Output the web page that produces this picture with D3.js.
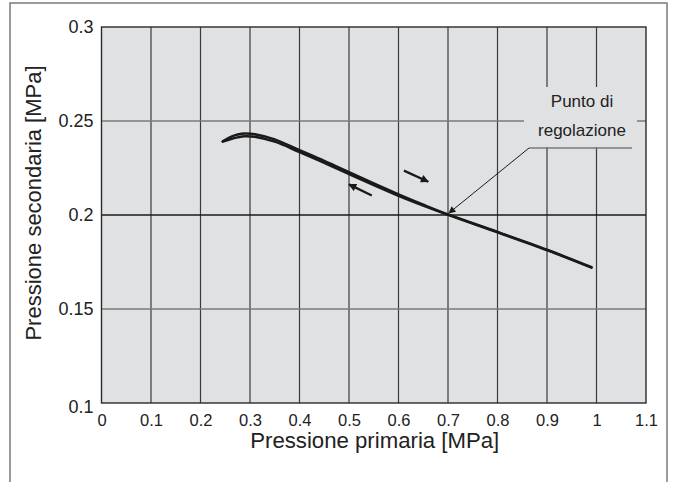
<!DOCTYPE html>
<html>
<head>
<meta charset="utf-8">
<script src="https://cdn.jsdelivr.net/npm/d3@7/dist/d3.min.js"></script>
<style>
  html, body { margin: 0; padding: 0; background: #fff; }
  svg { display: block; font-family: "Liberation Sans", Arial, Helvetica, sans-serif; }
</style>
</head>
<body>
<svg id="chart" width="674" height="482"></svg>
<script>
// Primary pressure (MPa) samples and secondary pressure for both directions
const primaryUp = [0.245, 0.26, 0.275, 0.29, 0.31, 0.35, 0.40, 0.45, 0.50, 0.55, 0.60, 0.65, 0.70, 0.80, 0.90, 0.99];
const secondaryUp = [0.2392, 0.2414, 0.2428, 0.2434, 0.2430, 0.2402, 0.2345, 0.2288, 0.2228, 0.2168, 0.2110, 0.2055, 0.2003, 0.1910, 0.1815, 0.1722];
const primaryDown = [0.245, 0.26, 0.275, 0.29, 0.31, 0.35, 0.40, 0.45, 0.50, 0.55, 0.60, 0.65, 0.70, 0.80, 0.90, 0.99];
const secondaryDown = [0.2390, 0.2403, 0.2413, 0.2419, 0.2416, 0.2390, 0.2335, 0.2278, 0.2218, 0.2159, 0.2102, 0.2050, 0.2001, 0.1908, 0.1813, 0.1720];

// Axis ticks
const xTicks = [0, 0.1, 0.2, 0.3, 0.4, 0.5, 0.6, 0.7, 0.8, 0.9, 1, 1.1];
const yTicks = [0.1, 0.15, 0.2, 0.25, 0.3];

// Set point and direction arrows (data units: [x0, y0, x1, y1])
const setPoint = [0.7, 0.2];
const setPointLabel = ["Punto di", "regolazione"];
const directionArrows = [
  [0.611, 0.2236, 0.660, 0.2177],
  [0.546, 0.2104, 0.500, 0.2163]
];

const xTitle = "Pressione primaria [MPa]";
const yTitle = "Pressione secondaria [MPa]";

const svg = d3.select("#chart");
const margin = { left: 101.5, right: 28, top: 27, bottom: 79 };
const W = 674, H = 482;

const x = d3.scaleLinear().domain([0, 1.1]).range([margin.left, W - margin.right]);
const y = d3.scaleLinear().domain([0.1, 0.3]).range([H - margin.bottom, margin.top]);

// Outer frame
svg.append("rect")
  .attr("x", 10).attr("y", 3)
  .attr("width", 657).attr("height", 490)
  .attr("fill", "none").attr("stroke", "#7a7a7a").attr("stroke-width", 1.5);

// Plot background
svg.append("rect")
  .attr("x", x(0)).attr("y", y(0.3))
  .attr("width", x(1.1) - x(0)).attr("height", y(0.1) - y(0.3))
  .attr("fill", "#e0e1e3");

// Vertical grid
svg.append("g").selectAll("line")
  .data(xTicks.slice(1, -1)).join("line")
  .attr("x1", d => x(d)).attr("x2", d => x(d))
  .attr("y1", y(0.3)).attr("y2", y(0.1))
  .attr("stroke", "#3a3a3a").attr("stroke-width", 1.2);

// Horizontal grid
svg.append("g").selectAll("line")
  .data(yTicks.slice(1, -1)).join("line")
  .attr("x1", x(0)).attr("x2", x(1.1))
  .attr("y1", d => y(d)).attr("y2", d => y(d))
  .attr("stroke", d => d === 0.2 ? "#1a1a1a" : "#7a7a7a")
  .attr("stroke-width", d => d === 0.2 ? 1.5 : 1.4);

// Plot border
svg.append("rect")
  .attr("x", x(0)).attr("y", y(0.3))
  .attr("width", x(1.1) - x(0)).attr("height", y(0.1) - y(0.3))
  .attr("fill", "none").attr("stroke", "#2a2a2a").attr("stroke-width", 1.4);

// Label box hiding the grid behind the set point note
svg.append("rect")
  .attr("x", 524).attr("y", 87)
  .attr("width", 113).attr("height", 60)
  .attr("fill", "#e0e1e3");

// Axes
const xAxis = d3.axisBottom(x).tickValues(xTicks).tickSize(0).tickPadding(11)
  .tickFormat(d => String(+d.toFixed(1)));
const gx = svg.append("g").attr("transform", `translate(0,${y(0.1)})`).call(xAxis);
gx.select(".domain").remove();
gx.selectAll("text").attr("font-size", 16.5).attr("fill", "#222")
  .attr("font-family", "Liberation Sans, Arial, sans-serif");

const yAxis = d3.axisLeft(y).tickValues(yTicks).tickSize(0).tickPadding(8)
  .tickFormat(d => String(+d.toFixed(2)));
const gy = svg.append("g").attr("transform", `translate(${x(0)},0)`).call(yAxis);
gy.select(".domain").remove();
gy.selectAll("text").attr("font-size", 18).attr("fill", "#222")
  .attr("font-family", "Liberation Sans, Arial, sans-serif");
gy.selectAll(".tick").filter(d => d === 0.1).select("text").attr("dy", "0.55em");

// Curves
const line = d3.line().x(d => x(d[0])).y(d => y(d[1])).curve(d3.curveCatmullRom.alpha(0.5));
const up = d3.zip(primaryUp, secondaryUp);
const down = d3.zip(primaryDown, secondaryDown);
[up, down].forEach(data => {
  svg.append("path").datum(data)
    .attr("d", line)
    .attr("fill", "none").attr("stroke", "#1a1a1a")
    .attr("stroke-width", 2.5).attr("stroke-linecap", "round");
});

// Arrow markers
const defs = svg.append("defs");
defs.append("marker").attr("id", "head")
  .attr("viewBox", "0 0 10 10").attr("refX", 9).attr("refY", 5)
  .attr("markerWidth", 11).attr("markerHeight", 8).attr("orient", "auto")
  .attr("markerUnits", "userSpaceOnUse")
  .append("path").attr("d", "M0,0 L10,5 L0,10 Z").attr("fill", "#1a1a1a");
defs.append("marker").attr("id", "headThin")
  .attr("viewBox", "0 0 10 10").attr("refX", 9).attr("refY", 5)
  .attr("markerWidth", 12).attr("markerHeight", 7).attr("orient", "auto")
  .attr("markerUnits", "userSpaceOnUse")
  .append("path").attr("d", "M0,0 L10,5 L0,10 Z").attr("fill", "#1a1a1a");

svg.append("g").selectAll("line")
  .data(directionArrows).join("line")
  .attr("x1", d => x(d[0])).attr("y1", d => y(d[1]))
  .attr("x2", d => x(d[2])).attr("y2", d => y(d[3]))
  .attr("stroke", "#1a1a1a").attr("stroke-width", 2.3)
  .attr("marker-end", "url(#head)");

// Set point note with leader
const leaderY = 148;
svg.append("line")
  .attr("x1", 529).attr("x2", 632)
  .attr("y1", leaderY).attr("y2", leaderY)
  .attr("stroke", "#7a7a7a").attr("stroke-width", 1.4);
svg.append("line")
  .attr("x1", 529).attr("y1", leaderY)
  .attr("x2", x(setPoint[0]) + 1).attr("y2", y(setPoint[1]) - 2)
  .attr("stroke", "#1a1a1a").attr("stroke-width", 1)
  .attr("marker-end", "url(#headThin)");

svg.append("text")
  .attr("x", 582).attr("y", 107)
  .attr("text-anchor", "middle").attr("font-size", 17).attr("fill", "#222")
  .selectAll("tspan").data(setPointLabel).join("tspan")
  .attr("x", 582).attr("dy", (d, i) => i === 0 ? 0 : 29)
  .text(d => d);

// Axis titles
svg.append("text")
  .attr("x", (x(0) + x(1.1)) / 2 + 1).attr("y", 448)
  .attr("text-anchor", "middle").attr("font-size", 22.2).attr("fill", "#222")
  .text(xTitle);
svg.append("text")
  .attr("transform", `translate(41,${(y(0.1) + y(0.3)) / 2 - 12}) rotate(-90)`)
  .attr("text-anchor", "middle").attr("font-size", 22).attr("fill", "#222")
  .text(yTitle);
</script>
</body>
</html>
